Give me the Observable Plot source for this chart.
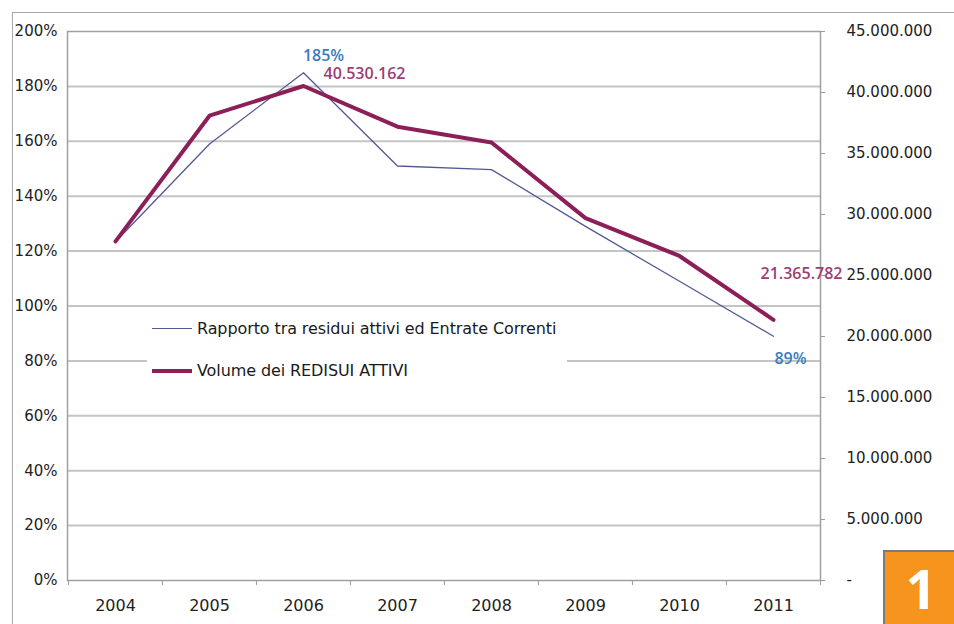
<!DOCTYPE html>
<html><head><meta charset="utf-8">
<script src="https://cdn.jsdelivr.net/npm/d3@7"></script>
<script src="https://cdn.jsdelivr.net/npm/@observablehq/plot@0.6"></script>
<style>
html,body{margin:0;padding:0;background:#fff;}
#wrap{position:relative;width:954px;height:624px;overflow:hidden;font-family:"DejaVu Sans",sans-serif;}
#border{position:absolute;left:12px;top:12px;width:1000px;height:700px;border:1.5px solid #a8a8a8;box-sizing:border-box;pointer-events:none;}
#chart{position:absolute;left:0;top:0;}
#legend{position:absolute;left:147px;top:313px;width:420px;height:78px;background:#fff;}
.item{position:absolute;left:5px;display:flex;align-items:center;font-size:16px;letter-spacing:-0.1px;color:#1a1a1a;white-space:nowrap;}
.sw{display:inline-block;width:40px;margin-right:5px;}
#badge{position:absolute;left:883px;top:550px;width:80px;height:80px;background:#f7941d;border-left:2px solid #7a7a7a;border-top:2px solid #7a7a7a;box-sizing:border-box;}
#badge span{position:absolute;left:0;width:72px;top:4px;text-align:center;color:#fff;font:bold 54px "Open Sans",sans-serif;line-height:64px;}
</style></head>
<body>
<div id="wrap">
  <div id="chart"></div>
  <div id="legend">
    <div class="item" style="top:6px"><span class="sw" style="border-top:1.3px solid #525a93"></span>Rapporto tra residui attivi ed Entrate Correnti</div>
    <div class="item" style="top:48px"><span class="sw" style="border-top:4px solid #8c1f58"></span>Volume dei REDISUI ATTIVI</div>
  </div>
  <div id="border"></div>
  <div id="badge"><span>1</span></div>
</div>
<script>
const years = ["2004","2005","2006","2007","2008","2009","2010","2011"];
const ratio = [1.234, 1.59, 1.85, 1.51, 1.497, 1.29, 1.09, 0.89];
const volume = [27800000, 38100000, 40530162, 37200000, 35900000, 29700000, 26600000, 21365782];
const leftTicks = [0, 0.2, 0.4, 0.6, 0.8, 1.0, 1.2, 1.4, 1.6, 1.8, 2.0];
const rightTicks = [0, 5000000, 10000000, 15000000, 20000000, 25000000, 30000000, 35000000, 40000000, 45000000];
const labelYears = ["2006", "2011"];

const VMAX = 45000000, PMAX = 2;
const toY = v => v / VMAX * PMAX;
const fromY = y => Math.round(y * VMAX / PMAX);
const itFmt = d3.formatLocale({decimal: ",", thousands: ".", grouping: [3], currency: ["", ""]}).format(",d");
const pct = d3.format(".0%");

const rows = years.map((y, i) => ({year: y, ratio: ratio[i], vol: volume[i], volY: toY(volume[i])}));
const lab = rows.filter(d => labelYears.includes(d.year));

const W = 954, ML = 67, MR = 134;
const step = (W - ML - MR) / years.length;

const chart = Plot.plot({
  width: W, height: 624,
  marginLeft: ML, marginRight: MR, marginTop: 31, marginBottom: 44,
  x: {type: "band", domain: years, padding: 0},
  y: {domain: [0, PMAX]},
  style: {background: "transparent", fontFamily: "DejaVu Sans, sans-serif", fontSize: "15px", color: "#222"},
  marks: [
    Plot.ruleY(leftTicks.slice(1, -1), {stroke: "#c4c4c4", strokeWidth: 2}),
    Plot.frame({stroke: "#a0a0a0", strokeWidth: 1.5}),
    Plot.axisY(leftTicks, {anchor: "left", tickSize: 0, tickPadding: 10, tickFormat: pct, fill: "#222", fontSize: 15, letterSpacing: -0.5}),
    Plot.axisY(rightTicks.map(toY), {anchor: "right", tickSize: 4, tickPadding: 22, stroke: "#999", fill: "#222", fontSize: 15, letterSpacing: -1,
      tickFormat: d => { const v = fromY(d); return v === 0 ? "-" : itFmt(v); }}),
    Plot.axisX({anchor: "bottom", tickSize: 0, tickPadding: 19, fill: "#222", fontSize: 16, letterSpacing: -0.3, label: null}),
    Plot.axisX({anchor: "bottom", tickSize: 5, stroke: "#999", tickFormat: () => "", dx: -step / 2, label: null}),
    Plot.axisX(years.slice(-1), {anchor: "bottom", tickSize: 5, stroke: "#999", tickFormat: () => "", dx: step / 2, label: null}),
    Plot.line(rows, {x: "year", y: "ratio", stroke: "#525a93", strokeWidth: 1.3}),
    Plot.line(rows, {x: "year", y: "volY", stroke: "#8c1f58", strokeWidth: 4, strokeLinejoin: "round"}),
    Plot.text(lab.filter(d => d.year === "2006"), {x: "year", y: "ratio", text: d => pct(d.ratio), dx: 20, dy: -17, fill: "#3a7cc0", fontSize: 16, fontWeight: 600, fontFamily: "Open Sans"}),
    Plot.text(lab.filter(d => d.year === "2006"), {x: "year", y: "volY", text: d => itFmt(d.vol), textAnchor: "start", dx: 20, dy: -12, fill: "#9b3f74", fontSize: 16, fontWeight: 600, fontFamily: "Open Sans"}),
    Plot.text(lab.filter(d => d.year === "2011"), {x: "year", y: "volY", text: d => itFmt(d.vol), textAnchor: "start", dx: -13, dy: -46, fill: "#9b3f74", fontSize: 16, fontWeight: 600, fontFamily: "Open Sans"}),
    Plot.text(lab.filter(d => d.year === "2011"), {x: "year", y: "ratio", text: d => pct(d.ratio), dx: 17, dy: 23, fill: "#3a7cc0", fontSize: 16, fontWeight: 600, fontFamily: "Open Sans"})
  ]
});
document.getElementById("chart").appendChild(chart);
</script>
</body></html>
